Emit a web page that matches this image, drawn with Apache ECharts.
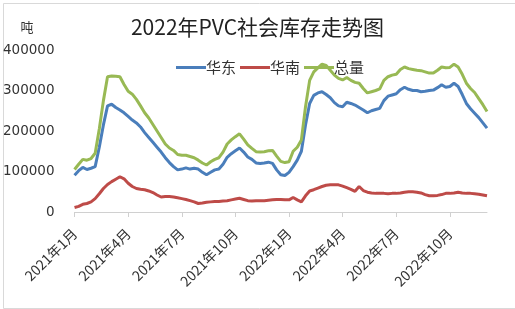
<!DOCTYPE html>
<html><head><meta charset="utf-8">
<script src="https://cdn.jsdelivr.net/npm/echarts@6/dist/echarts.min.js"></script>
<style>html,body{margin:0;padding:0;background:#fff}#c{width:515px;height:309px}</style>
</head><body><div id="c"></div>
<script>
// weekly observations, first week of 2021 to mid Dec 2022 (units: 吨)
const tickLabels = ['2021年1月','2021年4月','2021年7月','2021年10月','2022年1月','2022年4月','2022年7月','2022年10月'];
const eastChina = [91,102,110,105,108,112,160,215,262,266,258,252,245,236,227,220,210,196,184,172,160,148,134,122,112,104,106,109,106,108,106,98,92,98,104,106,118,135,144,151,158,148,136,130,121,120,121,123,120,104,92,90,98,112,128,150,215,268,288,294,297,290,282,270,262,260,271,268,264,258,252,245,250,253,256,275,286,289,292,302,308,303,300,300,297,298,300,301,307,314,308,310,318,310,290,268,255,244,233,220,207].map(v=>v*1000);
const southChina = [11,14,19,21,25,33,45,58,68,75,81,87,82,71,63,58,56,55,52,48,42,37,38,38,37,35,33,31,28,25,21,22,24,25,26,26,27,28,30,32,34,31,28,27,28,28,28,29,30,31,31,30,30,36,30,25,40,52,55,59,63,66,67,67,67,64,60,56,51,63,53,49,47,46,46,46,45,46,46,47,49,50,50,49,47,43,40,40,41,43,46,46,47,49,47,46,46,45,44,42,40].map(v=>v*1000);
const total = [105,118,130,128,132,145,205,275,334,336,335,334,315,298,291,278,262,245,232,216,200,184,168,158,152,142,140,140,137,134,128,121,116,124,130,134,148,168,178,186,193,180,166,157,149,148,149,151,152,138,125,122,124,150,160,178,260,325,346,356,365,362,350,338,330,326,332,325,320,318,305,294,297,300,304,325,334,338,340,352,358,354,352,350,349,346,343,343,350,358,356,357,365,358,340,318,305,295,280,265,248].map(v=>v*1000);
const seriesNames = ['华东','华南','总量'];

const weeks = [];
const start = new Date(2021,0,7);
for (let i=0;i<eastChina.length;i++){const d=new Date(start.getTime()+i*7*86400000);weeks.push(d.getFullYear()+'-'+(d.getMonth()+1)+'-'+d.getDate());}

const font = '"Noto Sans CJK SC", "Noto Sans", sans-serif';
const numFont = '"DejaVu Sans", "Noto Sans CJK SC", sans-serif';
const chart = echarts.init(document.getElementById('c'));
chart.setOption({
  animation:false,
  backgroundColor:'#fff',
  textStyle:{fontFamily:font},
  title:{text:'2022年PVC社会库存走势图',left:'center',top:12,textStyle:{fontSize:21,fontWeight:'normal',color:'#222',fontFamily:font}},
  legend:{top:55,left:171,itemWidth:30,itemHeight:3,itemGap:4,icon:'rect',
    textStyle:{fontSize:15,color:'#333',fontFamily:font,padding:[0,0,0,-5]},data:seriesNames},
  grid:{left:73,right:28,top:50,bottom:97},
  xAxis:{type:'category',data:weeks,boundaryGap:false,
    axisLine:{lineStyle:{color:'#d0d0d0',width:1}},
    axisTick:{show:true,length:5,interval:(i)=>i%13===0,lineStyle:{color:'#d0d0d0'}},
    axisLabel:{rotate:45,fontSize:14,color:'#333',margin:19,interval:(i)=>i%13===0,
      formatter:(v,i)=>tickLabels[Math.round(i/13)]||''}},
  yAxis:{type:'value',min:0,max:400000,interval:100000,name:'吨',
    nameLocation:'end',nameGap:16,nameTextStyle:{fontSize:13,color:'#333',align:'right',padding:[0,41,0,0]},
    axisLine:{show:false},axisTick:{show:false},splitLine:{show:false},
    axisLabel:{fontSize:13.5,color:'#333',margin:20,fontFamily:numFont,formatter:(v)=>String(v)}},
  series:[
    {name:'华东',type:'line',data:eastChina,showSymbol:false,lineStyle:{width:3,color:'#4a7ebb'},itemStyle:{color:'#4a7ebb'}},
    {name:'华南',type:'line',data:southChina,showSymbol:false,lineStyle:{width:3,color:'#be4b48'},itemStyle:{color:'#be4b48'}},
    {name:'总量',type:'line',data:total,showSymbol:false,lineStyle:{width:3,color:'#98b954'},itemStyle:{color:'#98b954'}}
  ],
  graphic:[{type:'rect',left:1,top:1,shape:{width:512,height:305},style:{fill:'none',stroke:'#d9d9d9',lineWidth:1},silent:true}]
});
</script></body></html>
